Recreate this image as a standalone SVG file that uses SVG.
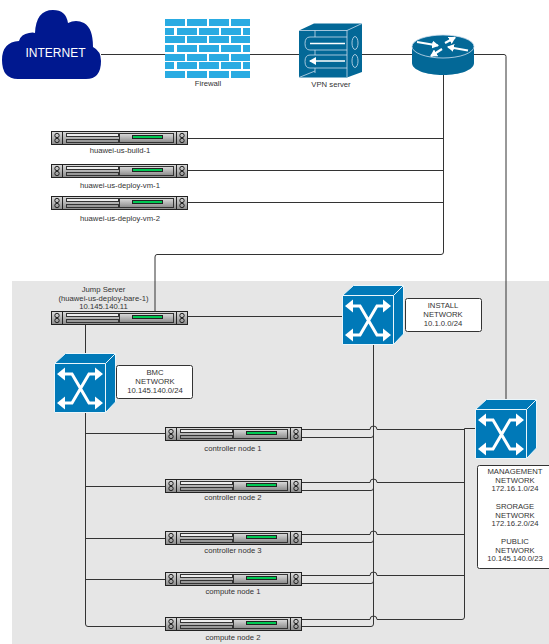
<svg xmlns="http://www.w3.org/2000/svg" xmlns:xlink="http://www.w3.org/1999/xlink" width="549" height="644" viewBox="0 0 549 644">
<style>
text{font-family:"Liberation Sans",Arial,sans-serif;font-size:7.700px;fill:#333;text-anchor:middle}
.conn path{fill:none;stroke:#333;stroke-width:1}
.lab{fill:#fff;stroke:#333;stroke-width:1}
.brick{fill:#29abe2}
.wf{fill:#fff}
</style>
<defs>
<linearGradient id="g" x1="0" y1="0" x2="0" y2="1"><stop offset="0" stop-color="#dcdcdc"/><stop offset="1" stop-color="#8a8a8a"/></linearGradient>
<marker id="ah" markerUnits="userSpaceOnUse" markerWidth="8" markerHeight="8" refX="6" refY="4" orient="auto"><path d="M0 0L7 4L0 8Z" fill="#fff"/></marker>
<symbol id="server" width="137" height="14" viewBox="0 0 137 14">
<rect x=".5" y=".5" width="136" height="13" fill="url(#g)" stroke="#222"/>
<path d="M11.500 .5V13.500M125.500 .5V13.500" stroke="#222" fill="none"/>
<g fill="none" stroke="#222" stroke-width="1"><circle cx="6" cy="4.500" r="2.200"/><circle cx="6" cy="9.500" r="2.200"/><circle cx="131" cy="4.500" r="2.200"/><circle cx="131" cy="9.500" r="2.200"/></g>
<rect x="15.500" y="2.500" width="52" height="3" fill="#eee" stroke="#333"/>
<rect x="15.500" y="8.500" width="52" height="3" fill="#999" stroke="#333"/>
<rect x="68.500" y="2.500" width="54" height="9" fill="url(#g)" stroke="#333"/>
<rect x="81.500" y="4.500" width="30" height="3" fill="#00c853" stroke="#222"/>
</symbol>
<symbol id="switch" width="62" height="60" viewBox="0 0 62 60">
<path d="M.5 10.500L11.500 .5H61.500V49L51.500 59.500H.5Z" fill="#0079b8" stroke="#eaf6fb" stroke-width="1"/>
<path d="M.5 10.500H51.500V59.500M51.500 10.500L61.500 .5" fill="none" stroke="#eaf6fb" stroke-width="1"/>
<path d="M8 21H18L35 50H44M8 50H18L35 21H44" fill="none" stroke="#fff" stroke-width="3"/>
<path d="M3 21L11 14.500V27.500ZM3 50L11 43.500V56.500ZM49 21L41 14.500V27.500ZM49 50L41 43.500V56.500Z" class="wf"/>
</symbol>
</defs>
<rect x="12" y="281" width="537" height="363" fill="#e6e6e6"/>
<g class="conn" id="connectors">
<path d="M101 54.500H165M250 54.500H299M362 54.500H412"/>
<path d="M474 54.500H504Q506 54.500 506 56.500V399" stroke="#555"/>
<path d="M443.500 75V252Q443.500 254.500 441 254.500H157Q155 254.500 155 257V311"/>
<path d="M188 138.500H443M188 170.500H443M188 202.500H443"/>
<path d="M188 316.500H342M85.500 324V353"/>
<path d="M85.500 412V624Q85.500 626.500 88 626.500H165M85.500 433.500H165M85.500 486.500H165M85.500 538.500H165M85.500 579.500H165"/>
<path d="M373.500 345V624"/>
<path d="M302 429.500H370A3.500 3.500 0 0 1 377 429.500H464M302 482.500H370A3.500 3.500 0 0 1 377 482.500H464M302 534.500H370A3.500 3.500 0 0 1 377 534.500H464M302 575.500H370A3.500 3.500 0 0 1 377 575.500H464M302 619.500H370A3.500 3.500 0 0 1 377 619.500H462Q464.500 619.500 464.500 617V428.500H475"/>
<path d="M302 437.500H371Q373.500 437.500 373.500 435M302 490.500H371Q373.500 490.500 373.500 488M302 542.500H371Q373.500 542.500 373.500 540M302 583.500H371Q373.500 583.500 373.500 581M302 626.500H371Q373.500 626.500 373.500 624"/>
</g>
<g id="internet">
<path d="M18 79Q2 79 2 60Q2 42 19 41Q21 34 29 33Q33 32 35 33Q36 10 53 10Q66 10 68 23Q76 19 84 23Q93 28 93 47Q101 51 101 61Q101 79 86 79Z" fill="#00188f"/>
<text x="55.500" y="57" style="font-size:12px;fill:#fff">INTERNET</text>
</g>
<g id="firewall">
<path class="brick" d="M165 19h20v7h-20zM187 19h20v7h-20zM209 19h20v7h-20zM231 19h19v7h-19zM165 28h9v7h-9zM177 28h20v7h-20zM199 28h20v7h-20zM221 28h20v7h-20zM243 28h7v7h-7zM165 36h20v7h-20zM187 36h20v7h-20zM209 36h20v7h-20zM231 36h19v7h-19zM165 45h9v7h-9zM177 45h20v7h-20zM199 45h20v7h-20zM221 45h20v7h-20zM243 45h7v7h-7zM165 54h20v7h-20zM187 54h20v7h-20zM209 54h20v7h-20zM231 54h19v7h-19zM165 62h9v7h-9zM177 62h20v7h-20zM199 62h20v7h-20zM221 62h20v7h-20zM243 62h7v7h-7zM165 71h20v7h-20zM187 71h20v7h-20zM209 71h20v7h-20zM231 71h19v7h-19z"/>
<text x="208" y="86">Firewall</text>
</g>
<g id="vpn-server">
<path d="M299 30.500L314 23.500H362V72L347 77.500H299Z" fill="#036897"/>
<path d="M299 30.500H347V77M347 30.500L362 23.500" fill="none" stroke="#cde" stroke-width=".8"/>
<path d="M315 30.500V37M315 50V55M315 68V73M299 77.500L315 71M347 37H310Q305 37 305 43.500Q305 50 310 50H347M347 55H310Q305 55 305 61.500Q305 68 310 68H347" fill="none" stroke="#cde" stroke-width=".8"/>
<ellipse cx="355" cy="43" rx="3" ry="6.500" fill="none" stroke="#cde" stroke-width=".8"/>
<ellipse cx="355" cy="61" rx="3" ry="6.500" fill="none" stroke="#cde" stroke-width=".8"/>
<path d="M310 43.500H345M345 61H310" stroke="#fff" stroke-width="1.500" marker-end="url(#ah)"/>
<text x="331" y="87">VPN server</text>
</g>
<g id="router">
<path d="M412 46.500V63C412 70 426 75 443 75S474 70 474 63V46.500Z" fill="#036897"/>
<ellipse cx="443" cy="46.500" rx="31" ry="11.500" fill="#036897" stroke="#cde" stroke-width=".8"/>
<g stroke="#fff" stroke-width="2.200" fill="none" marker-end="url(#ah)">
<path d="M417 42L438 45.500"/><path d="M468 50.500L448 47"/><path d="M445 43L455 37.500"/><path d="M442 49L431 56"/>
</g>
</g>
<g id="huawei-us-build-1"><use xlink:href="#server" href="#server" x="51" y="131"/><text x="120" y="153">huawei-us-build-1</text></g>
<g id="huawei-us-deploy-vm-1"><use xlink:href="#server" href="#server" x="51" y="164"/><text x="120" y="188">huawei-us-deploy-vm-1</text></g>
<g id="huawei-us-deploy-vm-2"><use xlink:href="#server" href="#server" x="51" y="196"/><text x="120" y="221">huawei-us-deploy-vm-2</text></g>
<g id="jump-server"><use xlink:href="#server" href="#server" x="51" y="311"/><text x="103.500" y="292">Jump Server</text><text x="103.500" y="301">(huawei-us-deploy-bare-1)</text><text x="103.500" y="309">10.145.140.11</text></g>
<g id="install-switch"><use xlink:href="#switch" href="#switch" x="342" y="285"/></g>
<g id="install-label"><rect class="lab" x="405.500" y="298.500" width="76" height="33" rx="2"/><text x="443" y="308">INSTALL</text><text x="443" y="317">NETWORK</text><text x="443" y="326">10.1.0.0/24</text></g>
<g id="bmc-switch"><use xlink:href="#switch" href="#switch" x="54" y="353"/></g>
<g id="bmc-label"><rect class="lab" x="116.500" y="365.500" width="76" height="33" rx="2"/><text x="155" y="375">BMC</text><text x="155" y="384">NETWORK</text><text x="155" y="393">10.145.140.0/24</text></g>
<g id="management-switch"><use xlink:href="#switch" href="#switch" x="475" y="399"/></g>
<g id="management-label"><rect class="lab" x="477.500" y="465.500" width="80" height="103" rx="2"/>
<text x="515" y="474">MANAGEMENT</text><text x="515" y="483">NETWORK</text><text x="515" y="491">172.16.1.0/24</text>
<text x="515" y="509">SRORAGE</text><text x="515" y="518">NETWORK</text><text x="515" y="526">172.16.2.0/24</text>
<text x="515" y="544">PUBLIC</text><text x="515" y="553">NETWORK</text><text x="515" y="561">10.145.140.0/23</text></g>
<g id="controller-node-1"><use xlink:href="#server" href="#server" x="165" y="427"/><text x="233" y="451">controller node 1</text></g>
<g id="controller-node-2"><use xlink:href="#server" href="#server" x="165" y="479"/><text x="233" y="500">controller node 2</text></g>
<g id="controller-node-3"><use xlink:href="#server" href="#server" x="165" y="531"/><text x="233" y="553">controller node 3</text></g>
<g id="compute-node-1"><use xlink:href="#server" href="#server" x="165" y="572"/><text x="233" y="594">compute node 1</text></g>
<g id="compute-node-2"><use xlink:href="#server" href="#server" x="165" y="617"/><text x="233" y="640">compute node 2</text></g>
</svg>
